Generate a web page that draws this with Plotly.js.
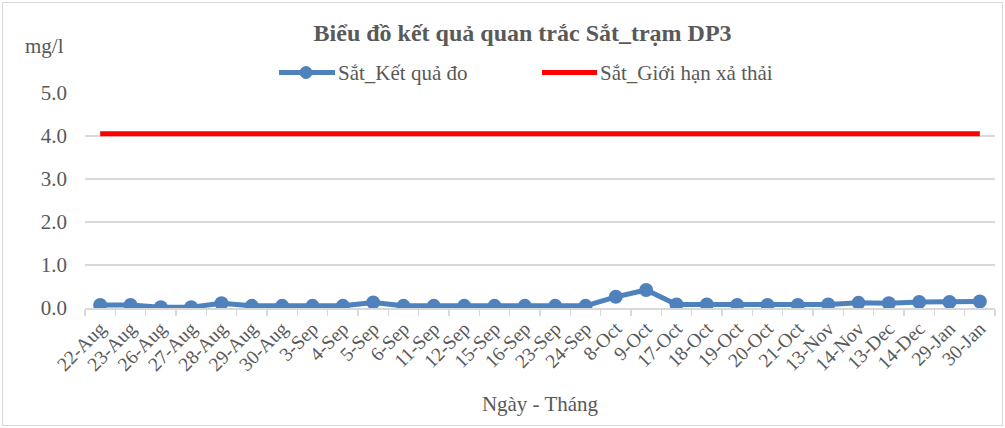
<!DOCTYPE html>
<html>
<head>
<meta charset="utf-8">
<script src="https://cdn.plot.ly/plotly-3.0.1.min.js"></script>
<style>
  body { margin: 0; padding: 0; background: #fff; }
  #wrap { position: relative; width: 1005px; height: 428px; }
  #chart { width: 1005px; height: 428px; }
  #frame { position: absolute; left: 2px; top: 2px; width: 999px; height: 422px; border: 1px solid #d9d9d9; pointer-events: none; }
</style>
</head>
<body>
<div id="wrap">
  <div id="chart"></div>
  <div id="frame"></div>
</div>
<script>
const dates = ["22-Aug","23-Aug","26-Aug","27-Aug","28-Aug","29-Aug","30-Aug","3-Sep","4-Sep","5-Sep",
  "6-Sep","11-Sep","12-Sep","15-Sep","16-Sep","23-Sep","24-Sep","8-Oct","9-Oct","17-Oct",
  "18-Oct","19-Oct","20-Oct","21-Oct","13-Nov","14-Nov","13-Dec","14-Dec","29-Jan","30-Jan"];
const measured = [0.07,0.07,0.02,0.02,0.11,0.05,0.05,0.05,0.05,0.13,
  0.05,0.05,0.05,0.05,0.05,0.05,0.05,0.26,0.42,0.08,
  0.08,0.07,0.07,0.07,0.08,0.12,0.11,0.14,0.14,0.15];
const limitValue = 4.05;
const limit = dates.map(() => limitValue);
const yTicks = [0,1,2,3,4,5];
const yTickText = ["0.0","1.0","2.0","3.0","4.0","5.0"];
const seriesNames = ["Sắt_Kết quả đo", "Sắt_Giới hạn xả thải"];
const seriesColors = ["#4F81BD", "#FF0000"];

const serif = "Liberation Serif, Times New Roman, serif";
const textGray = "#595959";

// plot area in pixels: left 85, right 995, top 92.5, bottom 308
const PL = 85, PW = 910, PB = 308, PH = 215.5;
const px = v => (v - PL) / PW;
const py = v => (PB - v) / PH;

const traces = [
  {
    x: dates, y: measured, name: seriesNames[0], type: "scatter", mode: "lines+markers",
    line: {color: seriesColors[0], width: 5},
    marker: {color: seriesColors[0], size: 14},
    showlegend: false
  },
  {
    x: dates, y: limit, name: seriesNames[1], type: "scatter", mode: "lines",
    line: {color: seriesColors[1], width: 5},
    showlegend: false
  }
];

// manual legend (Excel-style long symbols)
const legY = py(72);
const shapes = [
  {type: "line", xref: "paper", yref: "paper", x0: px(279), x1: px(335), y0: legY, y1: legY,
   line: {color: seriesColors[0], width: 5}},
  {type: "circle", xref: "paper", yref: "paper", x0: px(300), x1: px(312), y0: py(78), y1: py(66),
   fillcolor: seriesColors[0], line: {color: seriesColors[0], width: 1}},
  {type: "line", xref: "paper", yref: "paper", x0: px(542), x1: px(597), y0: legY, y1: legY,
   line: {color: seriesColors[1], width: 5}}
];

const layout = {
  width: 1005, height: 428,
  margin: {l: PL, r: 1005 - PL - PW, t: 92.5, b: 428 - PB},
  paper_bgcolor: "#fff", plot_bgcolor: "#fff",
  font: {family: serif, color: textGray, size: 20},
  title: {
    text: "<b>Biểu đồ kết quả quan trắc Sắt_trạm DP3</b>",
    font: {family: serif, size: 24, color: "#595959"},
    x: 0.52, xanchor: "center", xref: "container", y: 1 - 33 / 428, yanchor: "middle", yref: "container"
  },
  showlegend: false,
  xaxis: {
    type: "category", range: [-0.5, dates.length - 0.5],
    tickangle: -45, tickfont: {family: serif, size: 19.5, color: textGray},
    showgrid: false, showline: true, linecolor: "#d9d9d9", linewidth: 1.5,
    ticks: "outside", tickson: "boundaries", ticklen: 6, tickcolor: "#d9d9d9", tickwidth: 1.5,
    title: {text: "Ngày - Tháng", font: {family: serif, size: 21, color: textGray}, standoff: 22},
    fixedrange: true
  },
  yaxis: {
    range: [0, 5], tickvals: yTicks, ticktext: yTickText,
    tickfont: {family: serif, size: 21, color: textGray},
    showgrid: true, gridcolor: "#d9d9d9", gridwidth: 1.5,
    zeroline: false, showline: false, ticks: "", ticklabelstandoff: 17,
    fixedrange: true
  },
  shapes: shapes,
  annotations: [
    {text: "mg/l", xref: "paper", yref: "paper", x: px(44), y: py(45), xanchor: "center", yanchor: "middle",
     showarrow: false, font: {family: serif, size: 21, color: textGray}},
    {text: seriesNames[0], xref: "paper", yref: "paper", x: px(336), y: legY, xanchor: "left", yanchor: "middle",
     showarrow: false, font: {family: serif, size: 21, color: textGray}},
    {text: seriesNames[1], xref: "paper", yref: "paper", x: px(598), y: legY, xanchor: "left", yanchor: "middle",
     showarrow: false, font: {family: serif, size: 21, color: textGray}}
  ]
};

Plotly.newPlot("chart", traces, layout, {displayModeBar: false, staticPlot: true});
</script>
</body>
</html>
